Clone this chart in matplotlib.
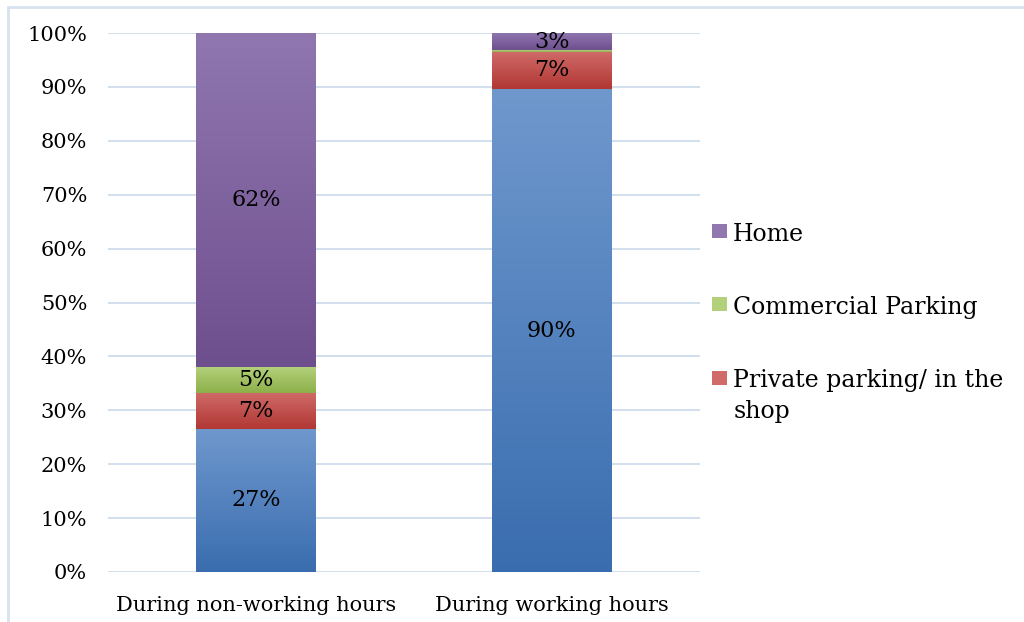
import numpy as np
import matplotlib.pyplot as plt
from matplotlib.colors import LinearSegmentedColormap
from matplotlib.patches import Rectangle

# dados (% de cada local)
categorias = ["During non-working hours", "During working hours"]
series = ["Blue", "Private parking/ in the\nshop", "Commercial Parking", "Home"]
valores = {
    "Blue": [26.6, 89.6],
    "Private parking/ in the\nshop": [6.7, 6.9],
    "Commercial Parking": [4.7, 0.3],
    "Home": [62.0, 3.2],
}
rotulos = {
    "Blue": ["27%", "90%"],
    "Private parking/ in the\nshop": ["7%", "7%"],
    "Commercial Parking": ["5%", ""],
    "Home": ["62%", "3%"],
}
legenda = ["Home", "Commercial Parking", "Private parking/ in the\nshop"]

# cores (topo claro, base escura) no estilo Excel
cores = {
    "Blue": ("#6f98cd", "#3a6daf"),
    "Private parking/ in the\nshop": ("#d06b69", "#b13733"),
    "Commercial Parking": ("#b3d07b", "#8db049"),
    "Home": ("#9077b0", "#6e4f8e"),
}

plt.rcParams['font.family'] = ['DejaVu Serif']
fig = plt.figure(figsize=(10.24, 6.22), dpi=100)
ax = fig.add_axes([0.1055, 0.0804, 0.578, 0.8665])

x = np.arange(len(categorias))
largura = 0.405
base = np.zeros(len(categorias))
grad = np.linspace(0, 1, 256).reshape(-1, 1)

for s in series:
    vals = np.array(valores[s])
    claro, escuro = cores[s]
    barras = ax.bar(x, vals, largura, bottom=base, color=escuro, zorder=2)
    cmap = LinearSegmentedColormap.from_list(s, [escuro, claro])
    for b, lab in zip(barras, rotulos[s]):
        x0, y0 = b.get_x(), b.get_y()
        w, h = b.get_width(), b.get_height()
        ax.imshow(grad, extent=(x0, x0 + w, y0, y0 + h), origin='lower',
                  aspect='auto', cmap=cmap, zorder=3)
        if lab:
            ax.text(x0 + w / 2, y0 + h / 2, lab, ha='center', va='center',
                    fontsize=16, zorder=4)
    base += vals

ax.set_xlim(-0.5, 1.5)
ax.set_ylim(0, 100)
ax.set_yticks(np.arange(0, 101, 10))
ax.set_yticklabels([f"{v}%" for v in range(0, 101, 10)])
ax.set_xticks(x)
ax.set_xticklabels(categorias)
ax.tick_params(axis='both', length=0, labelsize=15)
ax.tick_params(axis='y', pad=15)
ax.tick_params(axis='x', pad=17)
ax.grid(axis='y', color='#d3dfee', linewidth=1.4, zorder=0)
ax.set_axisbelow(True)
for sp in ax.spines.values():
    sp.set_visible(False)

# legenda manual (a série azul não aparece no original)
ys = [0.6125, 0.4952, 0.3762]
passo = 0.0482  # distância entre linhas de um mesmo rótulo
for nome, yb in zip(legenda, ys):
    fig.add_artist(Rectangle((0.6953, yb + 0.0045), 0.0146, 0.0235,
                             transform=fig.transFigure, facecolor=cores[nome][0],
                             edgecolor='none'))
    n = nome.count("\n")
    fig.text(0.716, yb - n * passo, nome, fontsize=17, va='baseline',
             ha='left', linespacing=1.45)

# borda do gráfico
fig.add_artist(Rectangle((0.008, -0.1), 1.2, 1.088, transform=fig.transFigure,
                         fill=False, edgecolor='#d6e2f0', linewidth=2))

fig.savefig("out.png", dpi=100)
